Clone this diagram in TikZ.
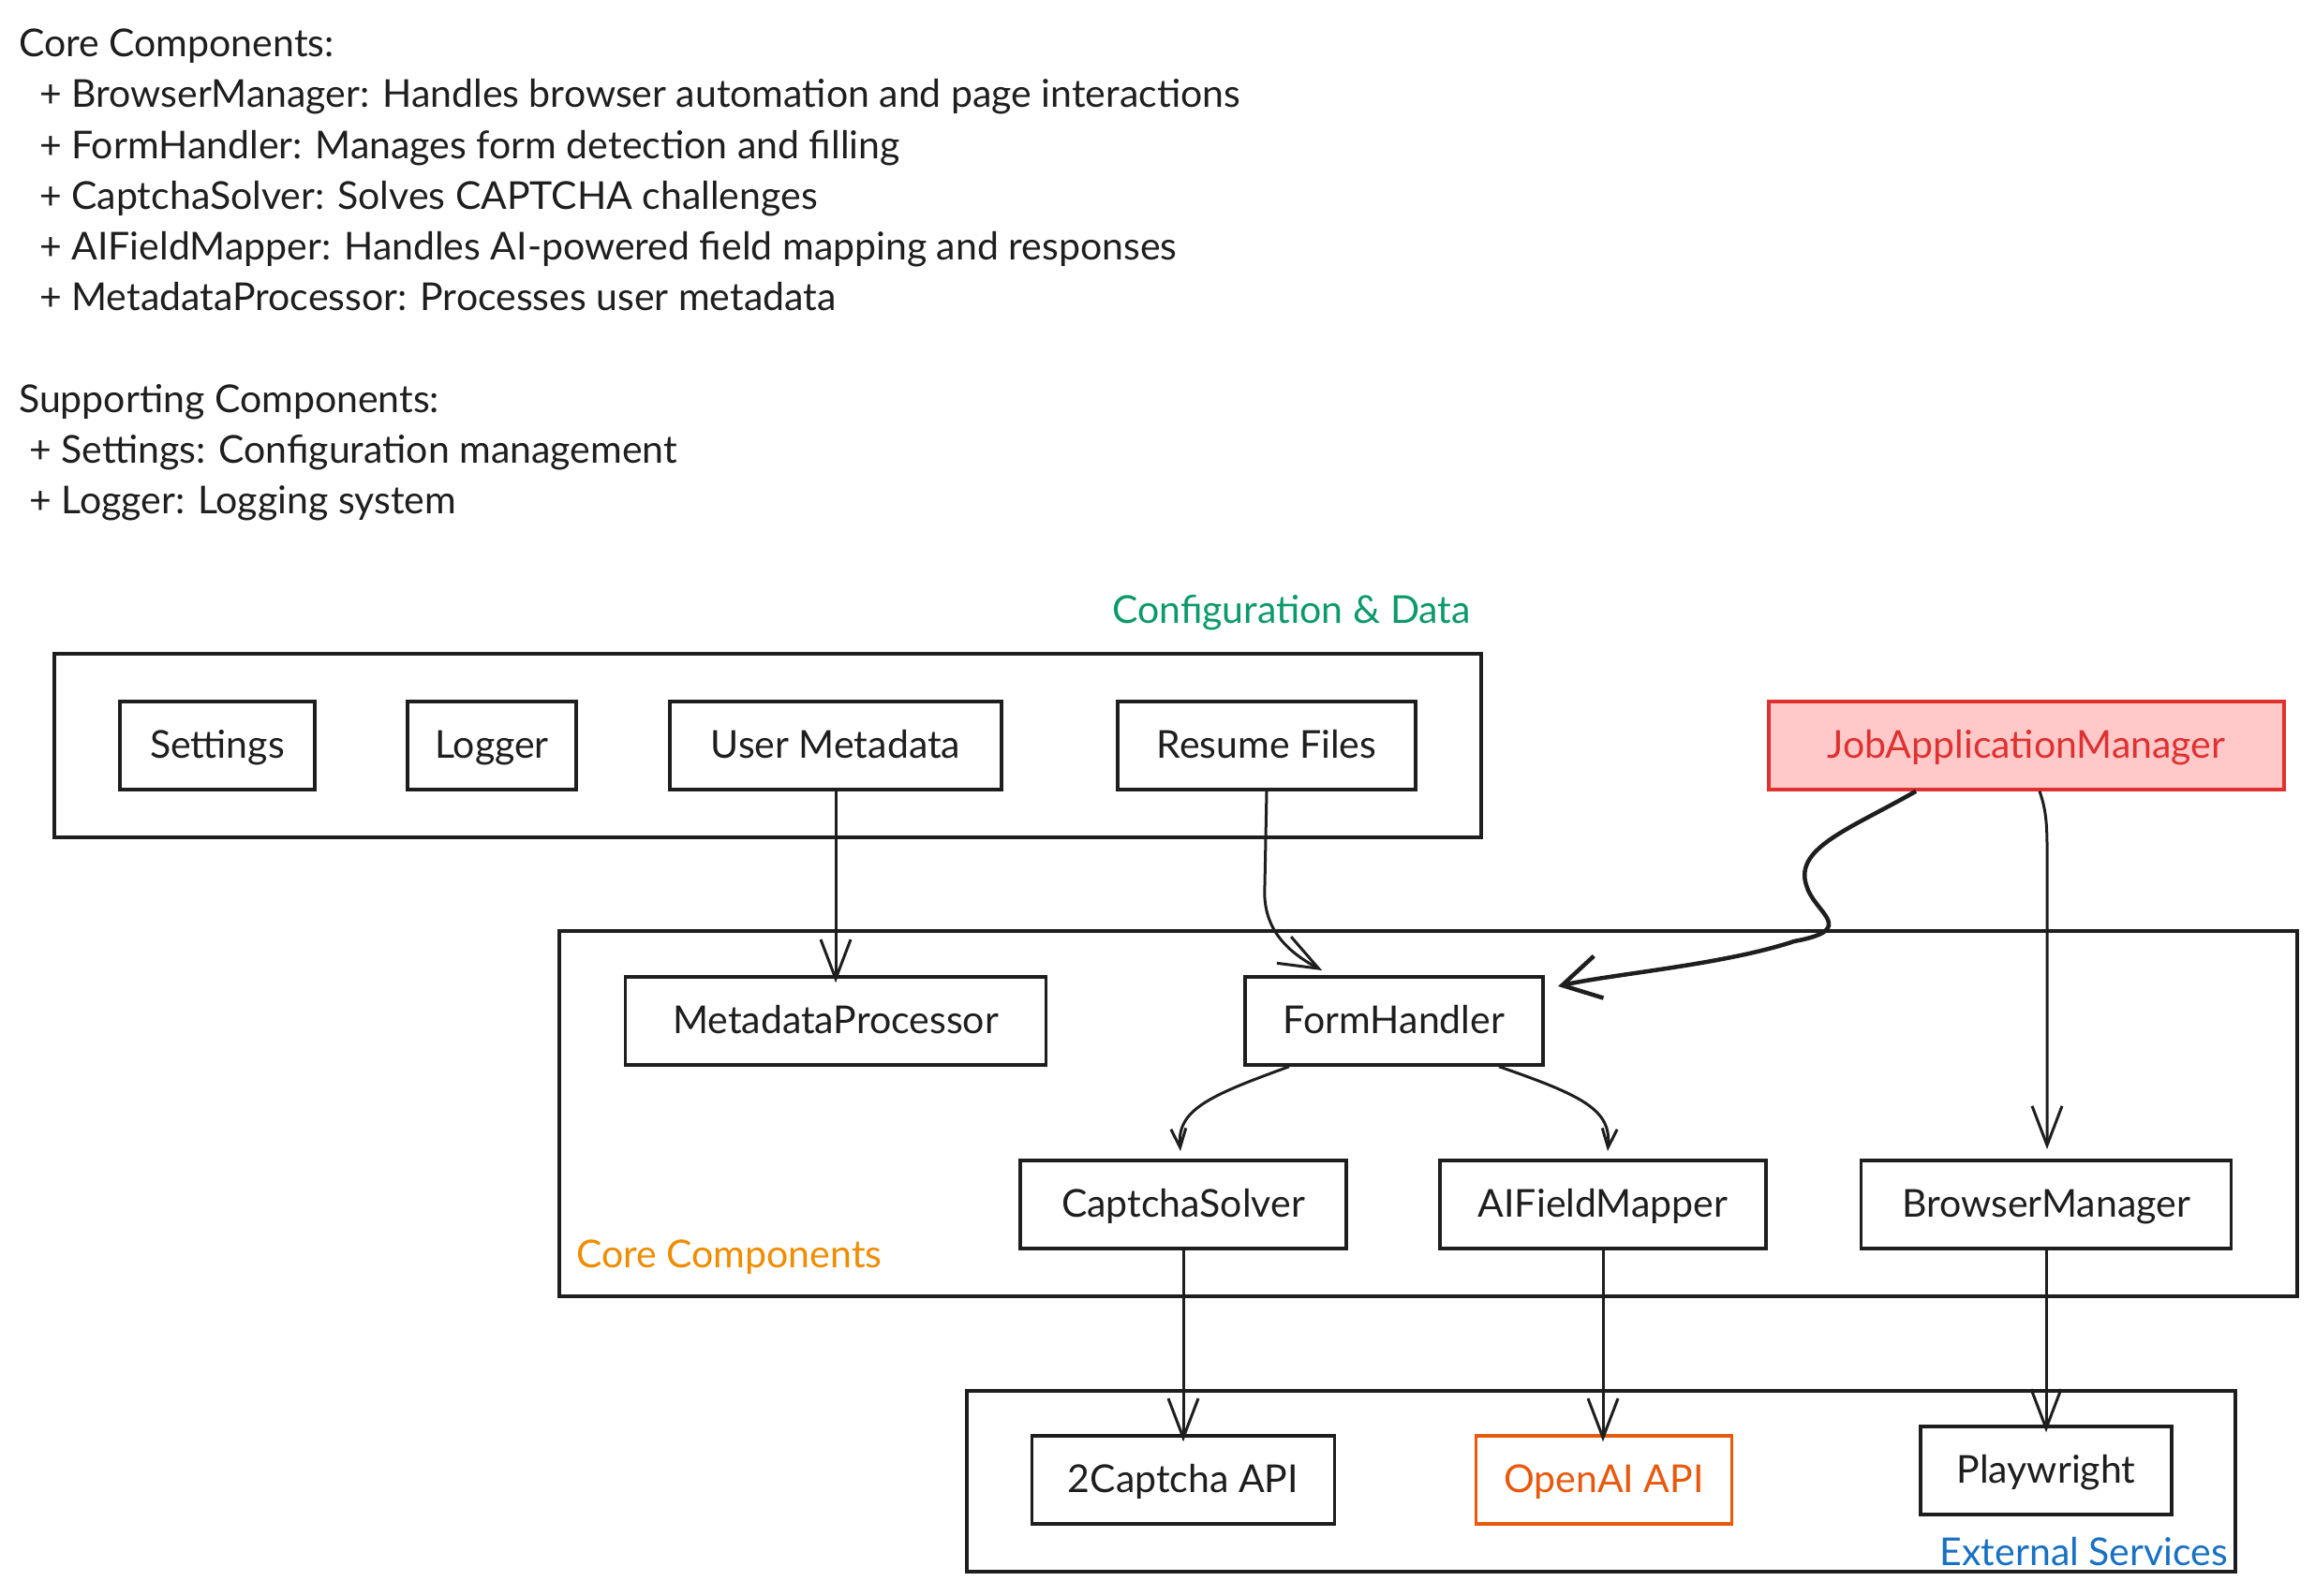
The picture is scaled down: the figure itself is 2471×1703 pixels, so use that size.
\documentclass[tikz,border=0pt]{standalone}
\usepackage{fontspec}
\setmainfont{Lato}
\usetikzlibrary{arrows.meta}
\definecolor{cfggreen}{HTML}{0C9A6A}
\definecolor{coreorange}{HTML}{F08C00}
\definecolor{extblue}{HTML}{1971C2}
\definecolor{jamred}{HTML}{E03131}
\definecolor{jamfill}{HTML}{FFC9C9}
\definecolor{oaiorange}{HTML}{E8590C}
\definecolor{inkc}{HTML}{1E1E1E}
\newcommand{\dtxt}{\fontsize{41}{49}\selectfont}
\tikzset{
  txtline/.style={anchor=base west, inner sep=0pt, font=\dtxt, text=inkc},
  compbox/.style={draw=inkc, line width=3.5pt, fill=white, font=\dtxt, text=inkc, inner sep=0pt, minimum height=94pt, text height=32pt, text depth=6pt},
  groupbox/.style={draw=inkc, line width=3.5pt, inner sep=0pt},
  grouplabel/.style={font=\dtxt, inner sep=0pt},
  flow/.style={draw=inkc, line width=3pt, -{Straight Barb[length=42pt,width=32pt]}, shorten >=2pt},
  flowshort/.style={draw=inkc, line width=3pt, -{Straight Barb[length=20pt,width=16pt]}},
  flowthick/.style={draw=inkc, line width=4.5pt, -{Straight Barb[length=40pt,width=46pt]}},
}
\begin{document}
\begin{tikzpicture}[x=1pt,y=-1pt]
\useasboundingbox[fill=white] (0,0) rectangle (2471,1703);

% text block
\node[txtline] (t1) at (20,60) {Core Components:};
\node[txtline] (t2) at (42,114) {+ BrowserManager: Handles browser automation and page interactions};
\node[txtline] (t3) at (42,169) {+ FormHandler: Manages form detection and filling};
\node[txtline] (t4) at (42,223) {+ CaptchaSolver: Solves CAPTCHA challenges};
\node[txtline] (t5) at (42,277) {+ AIFieldMapper: Handles AI-powered field mapping and responses};
\node[txtline] (t6) at (42,331) {+ MetadataProcessor: Processes user metadata};
\node[txtline] (t7) at (20,440) {Supporting Components:};
\node[txtline] (t8) at (31,494) {+ Settings: Configuration management};
\node[txtline] (t9) at (31,548) {+ Logger: Logging system};

% groups
\node[groupbox, minimum width=1523pt, minimum height=196pt] (cfg) at (819.5,796) {};
\node[groupbox, minimum width=1855pt, minimum height=390pt] (core) at (1524.5,1189) {};
\node[groupbox, minimum width=1354pt, minimum height=193pt] (ext) at (1709,1581.5) {};

\node[grouplabel, text=cfggreen, anchor=east] (cfgl) at (1570,654) {Configuration \& Data};
\node[grouplabel, text=coreorange, anchor=west] (corel) at (615,1342) {Core Components};
\node[grouplabel, text=extblue, anchor=east] (extl) at (2378,1657) {External Services};

% components
\node[compbox, minimum width=208pt] (set) at (232,796) {Settings};
\node[compbox, minimum width=180pt] (log) at (525,796) {Logger};
\node[compbox, minimum width=354pt] (um) at (892,796) {User Metadata};
\node[compbox, minimum width=318pt] (rf) at (1352,796) {Resume Files};
\node[compbox, minimum width=550pt, draw=jamred, fill=jamfill, text=jamred] (jam) at (2163,796) {JobApplicationManager};

\node[compbox, minimum width=449pt] (mp) at (892,1090) {MetadataProcessor};
\node[compbox, minimum width=318pt] (fh) at (1488,1090) {FormHandler};
\node[compbox, minimum width=348pt] (cs) at (1263,1286) {CaptchaSolver};
\node[compbox, minimum width=348pt] (aif) at (1711,1286) {AIFieldMapper};
\node[compbox, minimum width=395pt] (bm) at (2184,1286) {BrowserManager};

\node[compbox, minimum width=323pt] (tc) at (1263,1580) {2Captcha API};
\node[compbox, minimum width=273pt, draw=oaiorange, text=oaiorange] (oai) at (1712,1580) {OpenAI API};
\node[compbox, minimum width=268pt] (pw) at (2184,1570) {Playwright};

% connectors
\coordinate (fhtop) at (1413,1037);
\coordinate (fhright) at (1663,1053);
\coordinate (bmtop) at (2185,1229);
\coordinate (cstop) at (1260,1229);
\coordinate (aiftop) at (1716,1229);

\draw[flow] (um.south) -- ([yshift=-10pt]mp.north);
\draw[flow] (rf.south) -- (1350,945) .. controls (1347,990) and (1372,1015) .. (fhtop);
\draw[flowthick] ([xshift=-118pt]jam.south) .. controls (1975,885) and (1915,905) .. (1928,945)
   .. controls (1936,975) and (1985,992) .. (1915,1005)
   .. controls (1840,1030) and (1720,1040) .. (fhright);
\draw[flow] ([xshift=14pt]jam.south) .. controls (2186,870) and (2185,890) .. (2185,930) -- (bmtop);

\draw[flowshort] ([xshift=-112pt]fh.south) .. controls (1290,1170) and (1256,1185) .. (cstop);
\draw[flowshort] ([xshift=112pt]fh.south) .. controls (1690,1170) and (1720,1185) .. (aiftop);

\draw[flow] (cs.south) -- ([yshift=-10pt]tc.north);
\draw[flow] (aif.south) -- ([yshift=-10pt,xshift=-1pt]oai.north);
\draw[flow] (bm.south) -- ([yshift=-10pt]pw.north);
\end{tikzpicture}
\end{document}
